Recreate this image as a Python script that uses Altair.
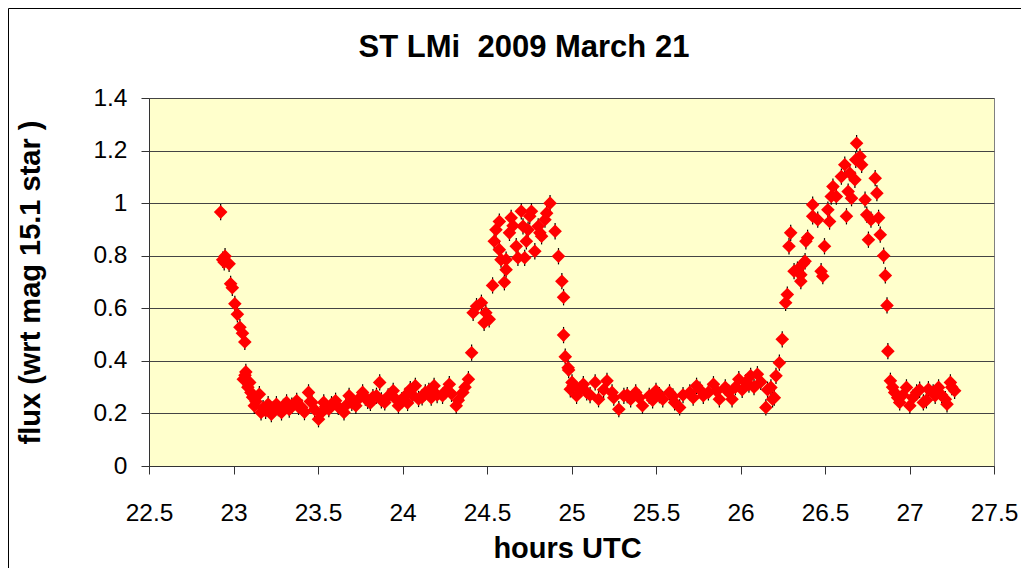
import altair as alt
import pandas as pd

# hours UTC
hours = [
    22.924, 22.936, 22.950, 22.945, 22.974, 22.983, 22.993, 23.008, 23.023, 23.038,
    23.053, 23.067, 23.073, 23.058, 23.068, 23.096, 23.085, 23.103, 23.113, 23.123,
    23.133, 23.153, 23.163, 23.175, 23.190, 23.205, 23.224, 23.235, 23.254, 23.265,
    23.284, 23.295, 23.314, 23.330, 23.345, 23.374, 23.385, 23.404, 23.420, 23.444,
    23.455, 23.464, 23.480, 23.503, 23.515, 23.534, 23.545, 23.564, 23.580, 23.604,
    23.620, 23.654, 23.665, 23.684, 23.700, 23.724, 23.740, 23.764, 23.780, 23.794,
    23.810, 23.825, 23.846, 23.865, 23.875, 23.895, 23.915, 23.945, 23.960, 23.976,
    23.995, 24.016, 24.030, 24.046, 24.060, 24.076, 24.095, 24.116, 24.135, 24.156,
    24.170, 24.187, 24.205, 24.237, 24.255, 24.277, 24.290, 24.318, 24.330, 24.357,
    24.370, 24.390,
    24.409, 24.418, 24.438, 24.467, 24.483, 24.493, 24.513, 24.533, 24.603, 24.613,
    24.583, 24.573, 24.543, 24.553, 24.573, 24.643, 24.633, 24.673, 24.683, 24.723,
    24.733, 24.703, 24.753, 24.713, 24.783, 24.813, 24.843, 24.873, 24.903, 24.923,
    24.943, 24.953, 24.953, 24.963, 24.983, 25.003, 24.993,
    24.654, 24.743, 24.803, 24.853, 24.823, 24.613, 24.763,
    24.980, 25.010, 25.030, 25.070, 25.090, 25.140, 25.160, 25.210, 25.240, 25.280,
    25.310, 25.350, 25.380, 25.420, 25.460, 25.500, 25.540, 25.580, 25.610, 25.640,
    25.700, 25.740, 25.780, 25.840, 25.875, 25.910, 25.950, 25.990, 26.030, 26.060,
    26.100, 26.150, 26.190, 26.180, 26.210, 26.230,
    25.050, 25.110, 25.190, 25.250, 25.330, 25.400, 25.480, 25.520, 25.600, 25.660,
    25.720, 25.760, 25.810, 25.860, 25.930, 25.970, 26.010, 26.050, 26.080, 26.120,
    26.160, 26.200,
    26.247, 26.267, 26.277, 26.287, 26.297, 26.317, 26.357, 26.382, 26.357, 26.397,
    26.387, 26.427, 26.457, 26.477, 26.487, 26.497, 26.517, 26.527, 26.547, 26.567,
    26.597, 26.617, 26.627, 26.637, 26.647, 26.657, 26.677, 26.682, 26.687, 26.707,
    26.717, 26.737, 26.747, 26.757, 26.772, 26.797, 26.807, 26.817, 26.827, 26.847,
    26.857, 26.867, 26.872,
    26.337, 26.372, 26.427, 26.537,
    26.887, 26.912, 26.942, 26.982, 27.002, 27.042, 27.082, 27.112, 27.152, 27.172,
    27.212, 27.242, 27.267, 27.222,
    26.900, 26.960, 27.020, 27.060, 27.100, 27.140, 27.190, 27.250, 26.930,
]

# flux relative to a mag 15.1 star
flux = [
    0.966, 0.785, 0.798, 0.775, 0.769, 0.693, 0.678, 0.617, 0.577, 0.528,
    0.505, 0.472, 0.358, 0.330, 0.345, 0.318, 0.300, 0.280, 0.262, 0.229,
    0.245, 0.273, 0.204, 0.220, 0.210, 0.235, 0.197, 0.215, 0.235, 0.220,
    0.204, 0.225, 0.242, 0.215, 0.230, 0.248, 0.225, 0.223, 0.205, 0.280,
    0.245, 0.242, 0.215, 0.178, 0.200, 0.242, 0.225, 0.216, 0.235, 0.248,
    0.225, 0.204, 0.230, 0.267, 0.240, 0.229, 0.255, 0.280, 0.260, 0.248,
    0.240, 0.262, 0.267, 0.318, 0.250, 0.242, 0.265, 0.286, 0.255, 0.229,
    0.250, 0.267, 0.240, 0.292, 0.270, 0.305, 0.255, 0.261, 0.280, 0.286,
    0.260, 0.305, 0.270, 0.267, 0.285, 0.311, 0.275, 0.229, 0.250, 0.280,
    0.300, 0.330,
    0.431, 0.583, 0.608, 0.621, 0.545, 0.583, 0.558, 0.687, 0.699, 0.747,
    0.785, 0.823, 0.855, 0.899, 0.930, 0.944, 0.887, 0.836, 0.792, 0.792,
    0.855, 0.969, 0.950, 0.912, 0.817, 0.887, 0.937, 1.000, 0.893, 0.798,
    0.703, 0.642, 0.498, 0.416, 0.365, 0.318, 0.292,
    0.914, 0.899, 0.912, 0.962, 0.874, 0.785, 0.969,
    0.374, 0.305, 0.267, 0.311, 0.280, 0.318, 0.254, 0.324, 0.280, 0.216,
    0.267, 0.254, 0.280, 0.229, 0.267, 0.286, 0.254, 0.280, 0.242, 0.223,
    0.280, 0.305, 0.267, 0.311, 0.254, 0.299, 0.254, 0.330, 0.318, 0.343,
    0.349, 0.223, 0.254, 0.299, 0.343, 0.393,
    0.290, 0.270, 0.290, 0.260, 0.270, 0.260, 0.250, 0.270, 0.265, 0.270,
    0.260, 0.290, 0.280, 0.285, 0.280, 0.300, 0.290, 0.310, 0.300, 0.320,
    0.290, 0.260,
    0.482, 0.621, 0.652, 0.836, 0.887, 0.741, 0.728, 0.779, 0.703, 0.868,
    0.855, 0.994, 0.937, 0.741, 0.722, 0.836, 0.975, 0.930, 1.063, 1.025,
    1.101, 1.146, 0.950, 1.044, 1.114, 1.019, 1.089, 1.165, 1.228, 1.177,
    1.146, 1.013, 0.956, 0.861, 0.937, 1.095, 1.038, 0.944, 0.880, 0.800,
    0.725, 0.611, 0.437,
    0.747, 0.770, 0.950, 1.025,
    0.324, 0.280, 0.242, 0.299, 0.229, 0.280, 0.242, 0.292, 0.267, 0.299,
    0.254, 0.318, 0.286, 0.235,
    0.300, 0.270, 0.260, 0.290, 0.250, 0.280, 0.270, 0.300, 0.260,
]

x_ticks = [22.5, 23, 23.5, 24, 24.5, 25, 25.5, 26, 26.5, 27, 27.5]
y_ticks = [0, 0.2, 0.4, 0.6, 0.8, 1.0, 1.2, 1.4]

title_text = "ST LMi\u00a0 2009 March 21"
x_title = "hours UTC"
y_title = "flux (wrt mag 15.1 star )"

FONT = "Liberation Sans"
W, H = 845, 368
PAD_L, PAD_T, PAD_R, PAD_B = 141, 90, 27, 102

df = pd.DataFrame({"hours": hours, "flux": flux})

xs = alt.Scale(domain=[22.5, 27.5], nice=False, zero=False)
ys = alt.Scale(domain=[0, 1.4], nice=False, zero=True)

x_axis = alt.Axis(
    values=x_ticks, format="~g", grid=False, tickSize=8, tickColor="#333333",
    domainColor="#333333", labelFontSize=24.5, labelFont=FONT, labelColor="black",
    labelPadding=27, labelFlush=False, labelOverlap=False,
    title=x_title, titleFont=FONT, titleFontSize=29,
    titleFontWeight="bold", titleColor="black", titleX=418, titleY=82,
    titleBaseline="middle", titleAlign="center",
)
y_axis = alt.Axis(
    values=y_ticks, format="~g", grid=True, gridColor="#444444", gridWidth=1,
    tickSize=8, tickColor="#333333", domainColor="#333333", labelFontSize=24.5,
    labelFont=FONT, labelColor="black", labelPadding=14, labelFlush=False,
    labelOverlap=False, title=y_title,
    titleFont=FONT, titleFontSize=29, titleFontWeight="bold", titleColor="black",
    titleX=-119, titleY=H / 2, titleAngle=-90, titleAlign="center",
    titleBaseline="middle",
)

base = alt.Chart(df)

errbars = base.transform_calculate(
    lo="datum.flux - 0.031", hi="datum.flux + 0.031"
).mark_rule(color="black", strokeWidth=1.2).encode(
    x=alt.X("hours:Q", scale=xs, axis=x_axis),
    y=alt.Y("lo:Q", scale=ys, axis=y_axis),
    y2="hi:Q",
)

points = base.mark_point(
    shape="diamond", filled=True, color="#FF0000", size=185, opacity=1
).encode(
    x=alt.X("hours:Q", scale=xs),
    y=alt.Y("flux:Q", scale=ys),
)

one = pd.DataFrame({"t": [title_text]})
title = alt.Chart(one).mark_text(
    font=FONT, fontSize=31, fontWeight="bold", color="black",
    align="center", baseline="middle",
).encode(x=alt.value(375), y=alt.value(-50), text="t:N")

frame = alt.Chart(one).mark_rect(
    fillOpacity=0, stroke="black", strokeWidth=1
).encode(
    x=alt.value(-140.5), x2=alt.value(872.5), y=alt.value(-89.5), y2=alt.value(500)
)

chart = alt.layer(frame, errbars, points, title).properties(
    width=W, height=H,
    autosize=alt.AutoSizeParams(type="none"),
    padding={"left": PAD_L, "top": PAD_T, "right": PAD_R, "bottom": PAD_B},
    background="white",
).configure_view(
    fill="#FFFFCC", stroke="#808080", strokeWidth=1
)

chart.save("out.html", embed_options={"renderer": "svg", "actions": False})
